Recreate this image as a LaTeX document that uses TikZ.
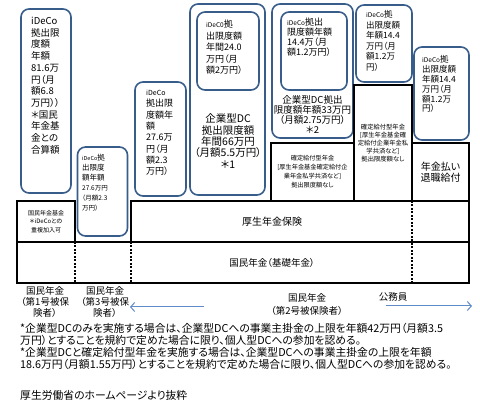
\documentclass[tikz,border=0pt]{standalone}
\usepackage{fontspec}
\setmainfont{Noto Sans CJK JP}[RawFeature=+palt]
\definecolor{boxblue}{RGB}{56,93,138}
\definecolor{arrowblue}{RGB}{95,140,200}
\usetikzlibrary{arrows.meta, positioning}
\newcommand{\fsz}[2]{\fontsize{#1}{#2}\selectfont}
\tikzset{
  idecobox/.style={draw=boxblue, line width=1.6pt, rounded corners=8pt, inner sep=0pt},
  cellbox/.style={draw=black, line width=1.1pt, inner sep=0pt, align=center},
  boxtext/.style={inner sep=0pt, align=left, anchor=north west},
  divider/.style={line width=1.1pt, dash pattern=on 2pt off 1.5pt},
  sidearrow/.style={draw=arrowblue, line width=1pt, -{Straight Barb[length=4pt,width=9pt]}},
}

\begin{document}
\begin{tikzpicture}[x=1pt, y=-1pt]
  \useasboundingbox[fill=white] (0,0) rectangle (480,419);

  % iDeCo boxes
  \node[idecobox, minimum width=50pt, minimum height=184pt] (ideco1) at (46,101) {};
  \node[boxtext, font=\fsz{9.5}{11.7}] (ideco1txt) at (31,17) {iDeCo\\拠出限\\度額\\年額\\81.6万\\円（月\\額6.8\\万円））\\＊国民\\年金基\\金との\\合算額};
  \node[idecobox, minimum width=50pt, minimum height=89pt] (ideco3) at (102.5,191.5) {};
  \node[boxtext, font=\fsz{7.5}{10}] (ideco3txt) at (82,154) {{\fsz{5.5}{10}iDeCo}拠\\出限度\\額年額\\{\fsz{6.5}{9.5}27.6万円}\\{\fsz{6.5}{9.5}（月額2.3}\\{\fsz{6.5}{9.5}万円）}};
  \node[idecobox, minimum width=51pt, minimum height=114pt] (ideco2) at (160.5,139) {};
  \node[boxtext, font=\fsz{9}{11.3}] (ideco2txt) at (146,90) {{\fsz{7}{11.3}iDeCo}\\拠出限\\度額年\\額\\27.6万\\円（月\\額2.3\\万円）};

  % corporate DC boxes
  \node[idecobox, minimum width=75pt, minimum height=191pt] (dc66) at (227.5,99.5) {};
  \node[idecobox, minimum width=62pt, minimum height=78pt] (dc66in) at (228,51) {};
  \node[boxtext, font=\fsz{9}{11.5}] (dc66intxt) at (206,20) {{\fsz{6.5}{11.5}iDeC0}拠\\出限度額\\年間24.0\\万円（月\\額2万円）};
  \node[align=center, inner sep=0pt, font=\fsz{10.5}{11.3}] (dc66txt) at (228,141) {企業型DC\\拠出限度額\\年間66万円\\（月額5.5万円）\\＊1};
  \node[idecobox, minimum width=81pt, minimum height=134pt] (dc33) at (312.5,71) {};
  \node[idecobox, minimum width=66pt, minimum height=78pt] (dc33in) at (314,51) {};
  \node[boxtext, font=\fsz{9}{10}] (dc33intxt) at (287,17.5) {{\fsz{6.5}{10}iDeCo}拠出\\限度額年額\\14.4万（月\\額1.2万円）};
  \node[align=center, inner sep=0pt, font=\fsz{9.5}{10}] (dc33txt) at (312.5,115) {企業型DC拠出\\限度額年額33万円\\（月額2.75万円）\\＊2};
  \node[idecobox, minimum width=56pt, minimum height=77pt] (dbideco) at (384,43.5) {};
  \node[boxtext, font=\fsz{8.5}{10.5}] (dbidecotxt) at (366,10.5) {{\fsz{6.5}{10.5}iDeCo}拠\\出限度額\\年額14.4\\万円（月\\額1.2万\\円）};
  \node[idecobox, minimum width=55pt, minimum height=93pt] (kmideco) at (441.5,93.5) {};
  \node[boxtext, font=\fsz{8.5}{9.8}] (kmidecotxt) at (422,55.5) {{\fsz{6.5}{9.8}iDeCo}拠\\出限度額\\年額14.4\\万円（月\\額1.2万\\円）};

  % black cells
  \node[cellbox, minimum width=58pt, minimum height=41pt, font=\fsz{6}{8.5}] (kikin) at (46,221.5) {国民年金基金\\＊iDeCoとの\\重複加入可};
  \node[cellbox, minimum width=83pt, minimum height=58pt, font=\fsz{6.2}{9}] (db1) at (312.5,172) {確定給付型年金\\{[}厚生年金基金確定給付企\\業年金私学共済など{]}\\拠出限度額なし};
  \node[cellbox, minimum width=58pt, minimum height=116pt, font=\fsz{6.3}{8}] (db2) at (383,143) {確定給付型年金\\{[}厚生年金基金確\\定給付企業年金私\\学共済など{]}\\拠出限度額なし};
  \node[cellbox, minimum width=57pt, minimum height=58pt, font=\fsz{10}{11.5}] (nenkin) at (440.5,172) {年金払い\\退職給付};

  % table rows
  \draw[line width=1.1pt] (131,201) rectangle (469,242);
  \draw[line width=1.1pt] (17,242) rectangle (469,283);
  \draw[divider] (75,242) -- (75,283);
  \draw[divider] (131,242) -- (131,283);
  \draw[divider] (412,201) -- (412,283);
  \node[font=\fsz{10}{12}] (kosei) at (272,222) {厚生年金保険};
  \node[font=\fsz{9.5}{12}] (kokumin) at (272,263) {国民年金（基礎年金）};

  % categories
  \node[align=center, inner sep=0pt, font=\fsz{9.5}{11}] (cat1) at (45,302) {国民年金\\（第1号被保\\険者）};
  \node[align=center, inner sep=0pt, font=\fsz{9.5}{11}] (cat3) at (105,302) {国民年金\\（第3号被保\\険者）};
  \node[align=center, inner sep=0pt, font=\fsz{9.5}{13.3}] (cat2) at (307,304.5) {国民年金\\（第2号被保険者）};
  \node[inner sep=0pt, font=\fsz{9.5}{11}] (koumu) at (393,297) {公務員};
  \coordinate (arrL) at (204,307);
  \coordinate (arrLtip) at (130,307);
  \coordinate (arrR) at (386,306);
  \coordinate (arrRtip) at (472,306);
  \draw[sidearrow] (arrL) -- (arrLtip);
  \draw[sidearrow] (arrR) -- (arrRtip);

  % notes
  \node[boxtext, font=\fsz{10.8}{11.9}] (note) at (20,323.5) {*企業型DCのみを実施する場合は、企業型DCへの事業主掛金の上限を年額42万円（月額3.5\\万円）とすることを規約で定めた場合に限り、個人型DCへの参加を認める。\\{*}企業型DCと確定給付型年金を実施する場合は、企業型DCへの事業主掛金の上限を年額\\18.6万円（月額1.55万円）とすることを規約で定めた場合に限り、個人型DCへの参加を認める。};
  \node[anchor=west, inner sep=0pt, font=\fsz{10.8}{12}] (source) at (20,395) {厚生労働省のホームページより抜粋};
\end{tikzpicture}
\end{document}
